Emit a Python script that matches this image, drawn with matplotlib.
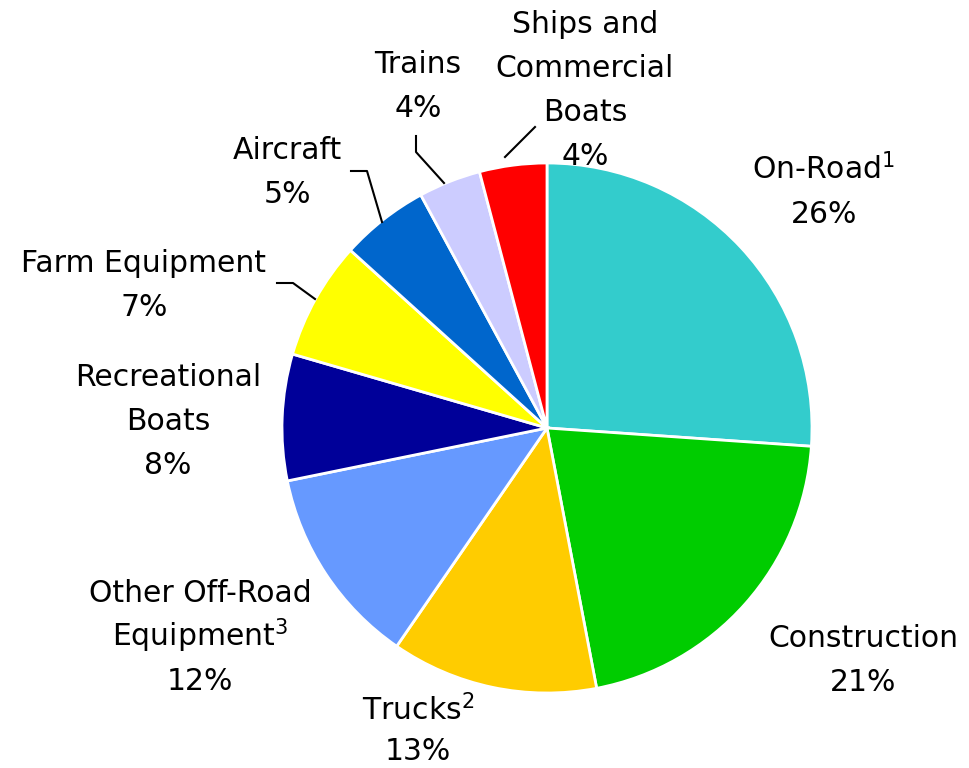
import matplotlib.pyplot as plt

# share of emissions by source
categories = ["On-Road$^{1}$", "Construction", "Trucks$^{2}$", "Other Off-Road\nEquipment$^{3}$",
              "Recreational\nBoats", "Farm Equipment", "Aircraft", "Trains", "Ships and\nCommercial\nBoats"]
shares = [26.1, 20.9, 12.6, 12.2, 7.7, 7.2, 5.4, 3.8, 4.1]
colors = ["#33CCCC", "#00CC00", "#FFCC00", "#6699FF", "#000099", "#FFFF00", "#0066CC", "#CCCCFF", "#FF0000"]

# label centres (pixel coords, y from top) and leader lines
label_pos = [(824, 190), (863, 658), (418, 729), (200, 635), (168, 419), (144, 283), (287, 170), (418, 84), (585, 88)]
leaders = {
    5: [(277, 283), (293, 283), (315, 299)],
    6: [(351, 171), (367, 171), (382, 222)],
    7: [(416, 136), (416, 152), (444, 183)],
    8: [(535, 127), (505, 157)],
}
line_step = 44
baseline_off = 11  # half cap height, centre -> baseline

W, H = 969, 768
fig = plt.figure(figsize=(W / 100, H / 100), dpi=100)
ax = fig.add_axes([0, 0, 1, 1])

ax.pie(shares, colors=colors, startangle=90, counterclock=False,
       center=(547, H - 428), radius=265,
       wedgeprops=dict(edgecolor="white", linewidth=2))

for i, (name, val) in enumerate(zip(categories, shares)):
    x, y = label_pos[i]
    lines = name.split("\n") + ["%d%%" % round(val)]
    n = len(lines)
    step = 40 if n == 2 and i == 2 else line_step
    for k, line in enumerate(lines):
        yy = y + (k - (n - 1) / 2) * step + baseline_off
        ax.text(x, H - yy, line, ha="center", va="baseline", fontsize=21.5, color="black")

for pts in leaders.values():
    ax.plot([p[0] for p in pts], [H - p[1] for p in pts], color="black", lw=1.5)

ax.set_xlim(0, W)
ax.set_ylim(0, H)
ax.set_aspect("equal")
ax.axis("off")

fig.savefig("out.png", dpi=100)
